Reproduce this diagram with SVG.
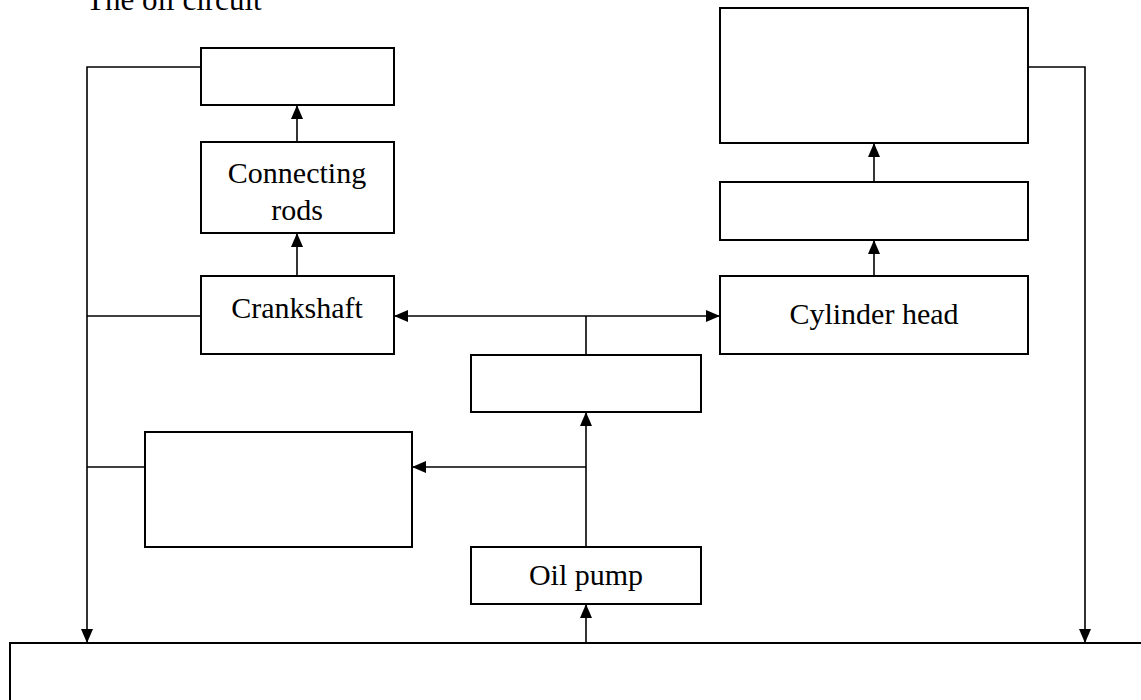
<svg xmlns="http://www.w3.org/2000/svg" width="1141" height="700" viewBox="0 0 1141 700">
<style>
.box{fill:#fff;stroke:#000;stroke-width:2}
.ln{fill:none;stroke:#000;stroke-width:1.6}
.t{font-family:"Liberation Serif",serif;font-size:30px;fill:#000;text-anchor:middle}
</style>
<defs>
<marker id="ah" viewBox="0 0 14 12" refX="14" refY="6" markerWidth="14" markerHeight="12" markerUnits="userSpaceOnUse" orient="auto">
<path d="M0,0 L14,6 L0,12 Z" fill="#000"/>
</marker>
</defs>
<rect width="1141" height="700" fill="#fff"/>
<text x="86" y="10" style="font-family:'Liberation Serif',serif;font-size:31px">The oil circuit</text>
<g id="connectors">
<polyline class="ln" points="201,67 87,67 87,643" marker-end="url(#ah)"/>
<line class="ln" x1="201" y1="316" x2="87" y2="316"/>
<line class="ln" x1="145" y1="467" x2="87" y2="467"/>
<polyline class="ln" points="1028,67 1085,67 1085,643" marker-end="url(#ah)"/>
<line class="ln" x1="297" y1="142" x2="297" y2="105" marker-end="url(#ah)"/>
<line class="ln" x1="297" y1="276" x2="297" y2="233" marker-end="url(#ah)"/>
<line class="ln" x1="874" y1="182" x2="874" y2="143" marker-end="url(#ah)"/>
<line class="ln" x1="874" y1="276" x2="874" y2="240" marker-end="url(#ah)"/>
<line class="ln" x1="586" y1="316" x2="394" y2="316" marker-end="url(#ah)"/>
<line class="ln" x1="586" y1="316" x2="720" y2="316" marker-end="url(#ah)"/>
<line class="ln" x1="586" y1="316" x2="586" y2="355"/>
<line class="ln" x1="586" y1="547" x2="586" y2="412" marker-end="url(#ah)"/>
<line class="ln" x1="586" y1="467" x2="412" y2="467" marker-end="url(#ah)"/>
<line class="ln" x1="586" y1="643" x2="586" y2="604" marker-end="url(#ah)"/>
</g>
<g id="node-top-left"><rect class="box" x="201" y="48" width="193" height="57"/></g>
<g id="node-connecting-rods"><rect class="box" x="201" y="142" width="193" height="91"/>
<text class="t" x="297" y="183">Connecting</text><text class="t" x="297" y="220">rods</text></g>
<g id="node-crankshaft"><rect class="box" x="201" y="276" width="193" height="78"/>
<text class="t" x="297" y="318">Crankshaft</text></g>
<g id="node-top-right"><rect class="box" x="720" y="8" width="308" height="135"/></g>
<g id="node-mid-right"><rect class="box" x="720" y="182" width="308" height="58"/></g>
<g id="node-cylinder-head"><rect class="box" x="720" y="276" width="308" height="78"/>
<text class="t" x="874" y="324">Cylinder head</text></g>
<g id="node-middle"><rect class="box" x="471" y="355" width="230" height="57"/></g>
<g id="node-lower-left"><rect class="box" x="145" y="432" width="267" height="115"/></g>
<g id="node-oil-pump"><rect class="box" x="471" y="547" width="230" height="57"/>
<text class="t" x="586" y="585">Oil pump</text></g>
<g id="node-bottom"><rect class="box" x="10" y="643" width="1140" height="70"/></g>
</svg>
